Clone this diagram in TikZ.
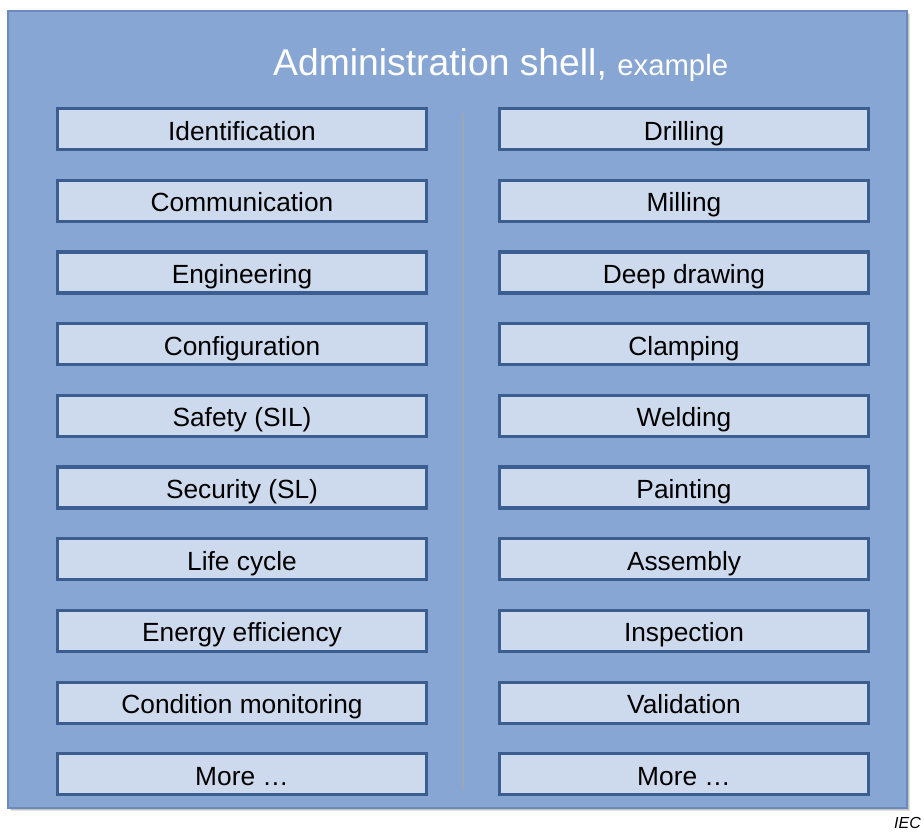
\documentclass[tikz,border=0pt]{standalone}
\usepackage{fontspec}
\setmainfont{Liberation Sans}
\definecolor{shellfill}{HTML}{87A6D4}
\definecolor{shelldraw}{HTML}{6B8BBF}
\definecolor{boxfill}{HTML}{CDD9EC}
\definecolor{boxdraw}{HTML}{3B5E90}
\definecolor{divcol}{HTML}{9CA6B6}
\tikzset{
  itembox/.style={draw=boxdraw, line width=3.2pt, fill=boxfill, minimum width=369pt, minimum height=41pt, inner sep=0pt, text height=22pt, text depth=0pt, font=\fontsize{26.3}{30}\selectfont, text=black},
  shell/.style={draw=shelldraw, line width=1.5pt, fill=shellfill},
}
\begin{document}
\begin{tikzpicture}[x=1pt,y=-1pt]
\useasboundingbox (0,0) rectangle (924,833);
% shadow
\fill[black, opacity=0.12] (11,14) rectangle (910,811);
\fill[black, opacity=0.12] (10,13) rectangle (909,810);
\draw[shell] (8,11) rectangle (907,808);
\coordinate (dtop) at (462.5,113);
\coordinate (dbot) at (462.5,790);
\draw[divcol, line width=2pt] (dtop) -- (dbot);
\node[anchor=base west, text=white, inner sep=0pt] (title) at (273,75) {\fontsize{37.3}{40}\selectfont Administration shell, {\fontsize{29.3}{32}\selectfont example}};
\foreach \t [count=\i from 0] in {Identification,Communication,Engineering,Configuration,Safety (SIL),Security (SL),Life cycle,Energy efficiency,Condition monitoring,More …}{
  \node[itembox] (L\i) at (242,129+71.7*\i) {\t};
}
\foreach \t [count=\i from 0] in {Drilling,Milling,Deep drawing,Clamping,Welding,Painting,Assembly,Inspection,Validation,More …}{
  \node[itembox] (R\i) at (684,129+71.7*\i) {\t};
}
\node[anchor=base east, inner sep=0pt, font=\fontsize{16}{18}\selectfont\itshape] (iec) at (921,828) {IEC};
\end{tikzpicture}
\end{document}
